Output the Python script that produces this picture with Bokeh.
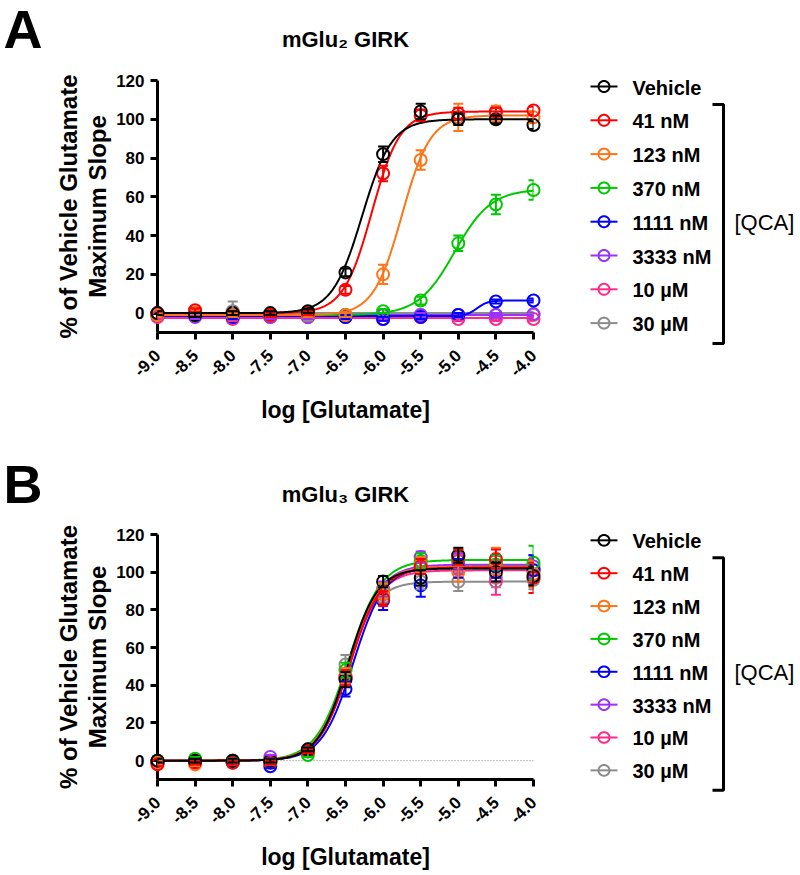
import math
import numpy as np
from bokeh.plotting import figure
from bokeh.layouts import column
from bokeh.core.properties import value
from bokeh.models import (Range1d, FixedTicker, PrintfTickFormatter, Whisker, TeeHead,
                          ColumnDataSource, Span)
from bokeh.embed import file_html
from bokeh.resources import INLINE

# ---------------- data ----------------
log_glu = [-9.0, -8.5, -8.0, -7.5, -7.0, -6.5, -6.0, -5.5, -5.0, -4.5, -4.0]
series_labels = ["Vehicle", "41 nM", "123 nM", "370 nM", "1111 nM", "3333 nM", "10 µM", "30 µM"]
series_colors = ["#000000", "#FF0000", "#FF7417", "#00C800", "#0000FF", "#9B30FF", "#FF2A8A", "#8C8C8C"]
x_ticks = [-9.0, -8.5, -8.0, -7.5, -7.0, -6.5, -6.0, -5.5, -5.0, -4.5, -4.0]
y_ticks = [0, 20, 40, 60, 80, 100, 120]

# Panel A: mGlu2 GIRK, mean and SEM per [QCA]
a_vehicle = [0, -1, 0, 0, 1, 21, 82, 104, 100, 100, 97]
a_41nM    = [0, 1.5, 0, -1, 0, 12, 72, 102, 103, 104, 104.5]
a_123nM   = [-1, 0.5, -1, -1, -1, -1, 20, 79, 101, 103, 101]
a_370nM   = [-1, -1, -1, -1, -1, -1, 1, 6.5, 36, 56, 63.5]
a_1111nM  = [-1, -1, -2, -1, -1, -2, -3, -2, -1, 6, 6.5]
a_3333nM  = [-1, -2, -2, -2, -2, -2, -1, -1, -1, -1, -0.5]
a_10uM    = [-2, -1, -3, -2, -2, -2, -3, -2, -3, -3, -3]
a_30uM    = [-1, -1, 1, -1, -2, -1, -1, -1, -1, -1, -1]

a_vehicle_sem = [1, 1, 1, 1, 1, 2, 4, 4, 3, 2, 2]
a_41nM_sem    = [1, 1, 1, 1, 1, 2, 4, 3, 3, 2, 2]
a_123nM_sem   = [1, 1, 1, 1, 1, 1, 5, 5, 7, 4, 3]
a_370nM_sem   = [1, 1, 1, 1, 1, 1, 1, 2, 4, 5, 5]
a_1111nM_sem  = [1, 1, 1, 1, 1, 1, 1, 1, 1, 1, 1]
a_3333nM_sem  = [1, 1, 1, 1, 1, 1, 1, 1, 1, 1, 1]
a_10uM_sem    = [1, 1, 1, 1, 1, 1, 1, 1, 1, 1, 1]
a_30uM_sem    = [1, 1, 5, 1, 2, 1, 1, 1, 1, 1, 1]

# fitted curves (bottom, top, logEC50, Hill slope)
a_fits = [(0, 100, -6.28, 2.2), (0, 104, -6.15, 2.3), (-1, 102, -5.75, 2.3), (-1, 64, -5.05, 1.8),
          (-1.5, 6.5, -4.75, 6.0), (-1, -1, -5.0, 1.0), (-2.5, -2.5, -5.0, 1.0), (0, 0, -5.0, 1.0)]

# Panel B: mGlu3 GIRK
b_vehicle = [0, 0, 0, 0, 6, 43, 95, 97, 109, 100, 98]
b_41nM    = [-2, -1, -1, -1, 5, 44, 86, 103, 108, 107, 97]
b_123nM   = [-1, -2, -1, -1, 5, 45, 90, 104, 100, 106, 99]
b_370nM   = [0, 1, 0, -1, 3, 48, 90, 106, 108, 104, 105]
b_1111nM  = [-1, 0, -1, -3, 5, 38, 85, 93, 102, 103, 101]
b_3333nM  = [-1, 0, 0, 2, 5, 44, 91, 108, 106, 104, 103]
b_10uM    = [0, 0, -1, 0, 5, 45, 90, 103, 104, 95, 101]
b_30uM    = [-1, 0, 0, -1, 6, 51, 88, 95, 95, 97, 96]

b_vehicle_sem = [1, 1, 1, 1, 1, 4, 3, 4, 4, 5, 5]
b_41nM_sem    = [1, 1, 1, 1, 1, 4, 4, 4, 4, 5, 8]
b_123nM_sem   = [1, 1, 1, 1, 1, 4, 4, 4, 5, 7, 7]
b_370nM_sem   = [1, 1, 1, 1, 1, 4, 4, 4, 4, 5, 9]
b_1111nM_sem  = [1, 1, 1, 1, 1, 4, 5, 6, 5, 6, 8]
b_3333nM_sem  = [1, 1, 1, 1, 1, 4, 4, 3, 4, 5, 6]
b_10uM_sem    = [1, 1, 1, 1, 1, 4, 4, 4, 5, 7, 6]
b_30uM_sem    = [1, 1, 1, 1, 1, 5, 4, 4, 5, 5, 5]

b_fits = [(0, 102, -6.47, 2.2), (0, 102.5, -6.44, 2.1), (0, 103, -6.46, 2.1), (0, 106.5, -6.46, 2.0),
          (0, 103, -6.40, 2.1), (0, 104, -6.44, 2.1), (0, 101, -6.45, 2.1), (0, 95, -6.50, 2.2)]

a_means = [a_vehicle, a_41nM, a_123nM, a_370nM, a_1111nM, a_3333nM, a_10uM, a_30uM]
a_sems = [a_vehicle_sem, a_41nM_sem, a_123nM_sem, a_370nM_sem, a_1111nM_sem, a_3333nM_sem, a_10uM_sem, a_30uM_sem]
b_means = [b_vehicle, b_41nM, b_123nM, b_370nM, b_1111nM, b_3333nM, b_10uM, b_30uM]
b_sems = [b_vehicle_sem, b_41nM_sem, b_123nM_sem, b_370nM_sem, b_1111nM_sem, b_3333nM_sem, b_10uM_sem, b_30uM_sem]

# ---------------- layout constants (figure pixels) ----------------
FONT = "Liberation Sans"
W = 795
FL, FR, FT, FB = 157, 533, 80, 332     # frame box inside each figure
X0, X1 = -9.0, -4.0
Y0, Y1 = -10.0, 120.0
SX = (FR - FL) / (X1 - X0)
SY = (FB - FT) / (Y1 - Y0)


def dx(fx):
    return X0 + (fx - FL) / SX


def dy(fy):
    return Y0 + (FB - fy) / SY


def add_text(p, fx, fy, txt, size, bold=True, align="left", angle=0.0):
    p.text(x=[dx(fx)], y=[dy(fy)], text=[txt], angle=angle, text_font=value(FONT),
           text_font_size=value(size), text_font_style="bold" if bold else "normal",
           text_align=align, text_baseline="middle", text_color="black", level="overlay")


def make_panel(letter, title, means, sems, fits, height, zero_line):
    p = figure(width=W, height=height, output_backend="svg", toolbar_location=None,
               x_range=Range1d(X0, X1), y_range=Range1d(Y0, Y1),
               min_border_left=FL, min_border_right=W - FR, min_border_top=FT,
               min_border_bottom=height - FB)
    p.outline_line_color = None
    p.xgrid.visible = False
    p.ygrid.visible = False

    for ax in (p.xaxis[0], p.yaxis[0]):
        ax.axis_line_width = 3
        ax.axis_line_color = "black"
        ax.major_tick_line_width = 3
        ax.major_tick_line_color = "black"
        ax.major_tick_out = 7
        ax.major_tick_in = 0
        ax.minor_tick_line_color = None
        ax.major_label_text_font = FONT
        ax.major_label_text_font_style = "bold"
        ax.major_label_text_font_size = "17px"
        ax.major_label_text_color = "black"
    p.xaxis.ticker = FixedTicker(ticks=x_ticks)
    p.xaxis.formatter = PrintfTickFormatter(format="%.1f")
    p.xaxis.major_label_orientation = math.pi / 4
    p.xaxis.major_label_standoff = 13
    p.xaxis.axis_label = "log [Glutamate]"
    p.xaxis.axis_label_text_font = FONT
    p.xaxis.axis_label_text_font_style = "bold"
    p.xaxis.axis_label_text_font_size = "23px"
    p.xaxis.axis_label_text_color = "black"
    p.xaxis.axis_label_standoff = 12
    p.yaxis.ticker = FixedTicker(ticks=y_ticks)
    p.yaxis.major_label_standoff = 6

    if zero_line:
        p.add_layout(Span(location=0, dimension="width", line_color="#777777",
                          line_width=1, line_dash="1 2"))

    xc = np.linspace(X0, X1, 300)
    for i in reversed(range(len(means))):
        c = series_colors[i]
        b, t, ec, h = fits[i]
        yc = b + (t - b) / (1 + 10 ** ((ec - xc) * h))
        p.line(xc, yc, line_color=c, line_width=2, level="overlay")
        src = ColumnDataSource(dict(x=log_glu, y=means[i],
                                    lo=[m - s for m, s in zip(means[i], sems[i])],
                                    hi=[m + s for m, s in zip(means[i], sems[i])]))
        wk = Whisker(source=src, base="x", upper="hi", lower="lo", line_color=c, line_width=2,
                     upper_head=TeeHead(size=10, line_color=c, line_width=2),
                     lower_head=TeeHead(size=10, line_color=c, line_width=2), level="overlay")
        p.add_layout(wk)
        p.scatter("x", "y", source=src, marker="circle", size=12, line_color=c,
                  line_width=2, fill_alpha=0, level="overlay")

    # legend (line + open circle + label per series), drawn beside the frame
    ang = np.linspace(0, 2 * np.pi, 41)
    for i, lab in enumerate(series_labels):
        c = series_colors[i]
        fy = 86 + 33.8 * i
        p.line([dx(590), dx(617)], [dy(fy), dy(fy)], line_color=c, line_width=2, level="overlay")
        p.line(dx(603.5) + 5.5 * np.cos(ang) / SX, dy(fy) + 5.5 * np.sin(ang) / SY,
               line_color=c, line_width=2, level="overlay")
        add_text(p, 632, fy + 1, lab, "20px")

    # bracket for the [QCA] series
    p.line([dx(712), dx(723), dx(723), dx(712)], [dy(104), dy(104), dy(343), dy(343)],
           line_color="black", line_width=3, level="overlay")
    add_text(p, 734, 222, "[QCA]", "22px", bold=False)

    # panel letter, title and y-axis label
    add_text(p, 3, 28.5, letter, "54px")
    add_text(p, 345, 39, title, "22px", align="center")
    add_text(p, 68, 206, "% of Vehicle Glutamate", "24px", align="center", angle=math.pi / 2)
    add_text(p, 97, 206, "Maximum Slope", "24px", align="center", angle=math.pi / 2)
    return p


pa = make_panel("A", "mGlu₂ GIRK", a_means, a_sems, a_fits, 454, False)
pb = make_panel("B", "mGlu₃ GIRK", b_means, b_sems, b_fits, 418, True)

layout = column(pa, pb, spacing=0)
open("out.html", "w").write(file_html(layout, INLINE))
